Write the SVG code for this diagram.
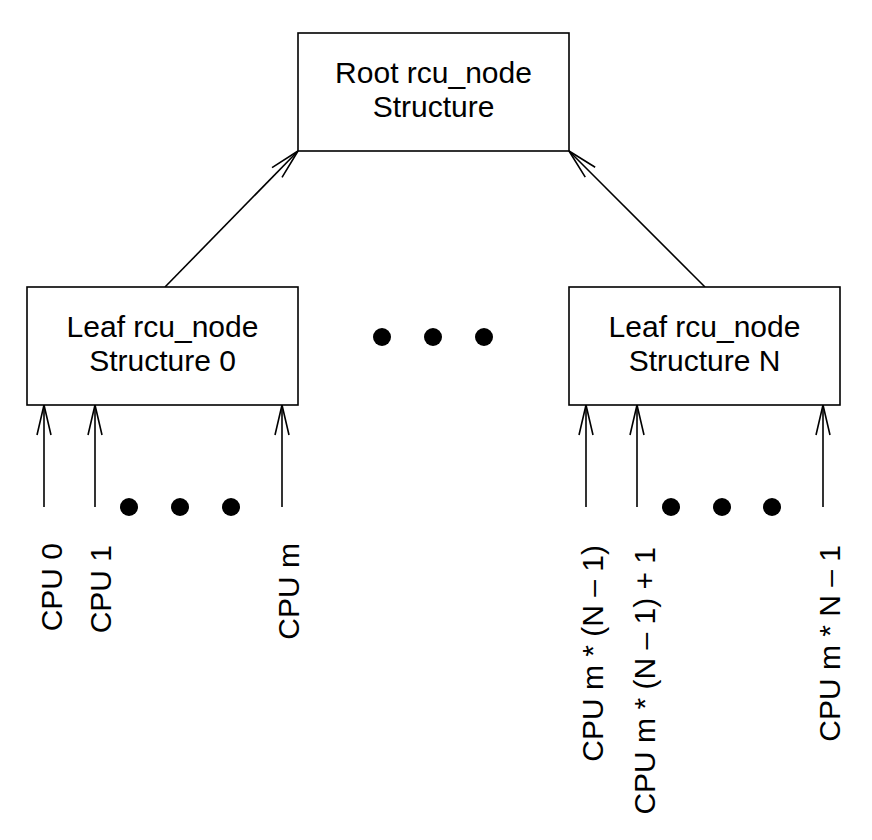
<svg xmlns="http://www.w3.org/2000/svg" width="872" height="840" viewBox="0 0 872 840">
<style>
.box{fill:#fff;stroke:#000;stroke-width:1.6}
.t{font-family:"Liberation Sans",Arial,sans-serif;font-size:30px;fill:#000;text-anchor:middle}
.cpu{font-family:"Liberation Sans",Arial,sans-serif;font-size:30px;fill:#000;text-anchor:end}
.ln{stroke:#000;stroke-width:1.6;fill:none;marker-end:url(#ah)}
.dot{fill:#000}
</style>
<defs>
<marker id="ah" markerUnits="userSpaceOnUse" markerWidth="40" markerHeight="20" viewBox="-32 -10 34 20" refX="0" refY="0" orient="auto" overflow="visible">
<path d="M -30 -7 L 0 0 L -30 7" fill="none" stroke="#000" stroke-width="1.6"/>
</marker>
</defs>
<rect width="872" height="840" fill="#fff"/>
<g id="connectors">
<line class="ln" x1="165" y1="287" x2="298" y2="151"/>
<line class="ln" x1="705" y1="287" x2="569" y2="151"/>
<line class="ln" x1="44" y1="507" x2="44" y2="405"/>
<line class="ln" x1="95" y1="507" x2="95" y2="405"/>
<line class="ln" x1="282" y1="507" x2="282" y2="405"/>
<line class="ln" x1="586" y1="507" x2="586" y2="405"/>
<line class="ln" x1="637" y1="507" x2="637" y2="405"/>
<line class="ln" x1="823" y1="507" x2="823" y2="405"/>
</g>
<g id="root">
<rect class="box" x="298" y="33" width="271" height="118"/>
<text class="t" x="433.5" y="83">Root rcu_node</text>
<text class="t" x="433.5" y="117">Structure</text>
</g>
<g id="leaf0">
<rect class="box" x="27" y="287" width="271" height="118"/>
<text class="t" x="162.5" y="337">Leaf rcu_node</text>
<text class="t" x="162.5" y="371">Structure 0</text>
</g>
<g id="leafN">
<rect class="box" x="569" y="287" width="271" height="118"/>
<text class="t" x="704.5" y="337">Leaf rcu_node</text>
<text class="t" x="704.5" y="371">Structure N</text>
</g>
<g id="ellipsis-mid">
<circle class="dot" cx="382" cy="337" r="9"/>
<circle class="dot" cx="433" cy="337" r="9"/>
<circle class="dot" cx="484" cy="337" r="9"/>
</g>
<g id="ellipsis-left">
<circle class="dot" cx="129" cy="507" r="9"/>
<circle class="dot" cx="180" cy="507" r="9"/>
<circle class="dot" cx="231" cy="507" r="9"/>
</g>
<g id="ellipsis-right">
<circle class="dot" cx="671" cy="507" r="9"/>
<circle class="dot" cx="722" cy="507" r="9"/>
<circle class="dot" cx="772" cy="507" r="9"/>
</g>
<g id="cpu0"><text class="cpu" transform="translate(62,543) rotate(-90)">CPU 0</text></g>
<g id="cpu1"><text class="cpu" transform="translate(111,545) rotate(-90)">CPU 1</text></g>
<g id="cpum"><text class="cpu" transform="translate(299,543) rotate(-90)">CPU m</text></g>
<g id="cpuA"><text class="cpu" transform="translate(603,545) rotate(-90)">CPU m * (N – 1)</text></g>
<g id="cpuB"><text class="cpu" transform="translate(655,547) rotate(-90)">CPU m * (N – 1) + 1</text></g>
<g id="cpuC"><text class="cpu" transform="translate(840,545) rotate(-90)">CPU m * N – 1</text></g>
</svg>
